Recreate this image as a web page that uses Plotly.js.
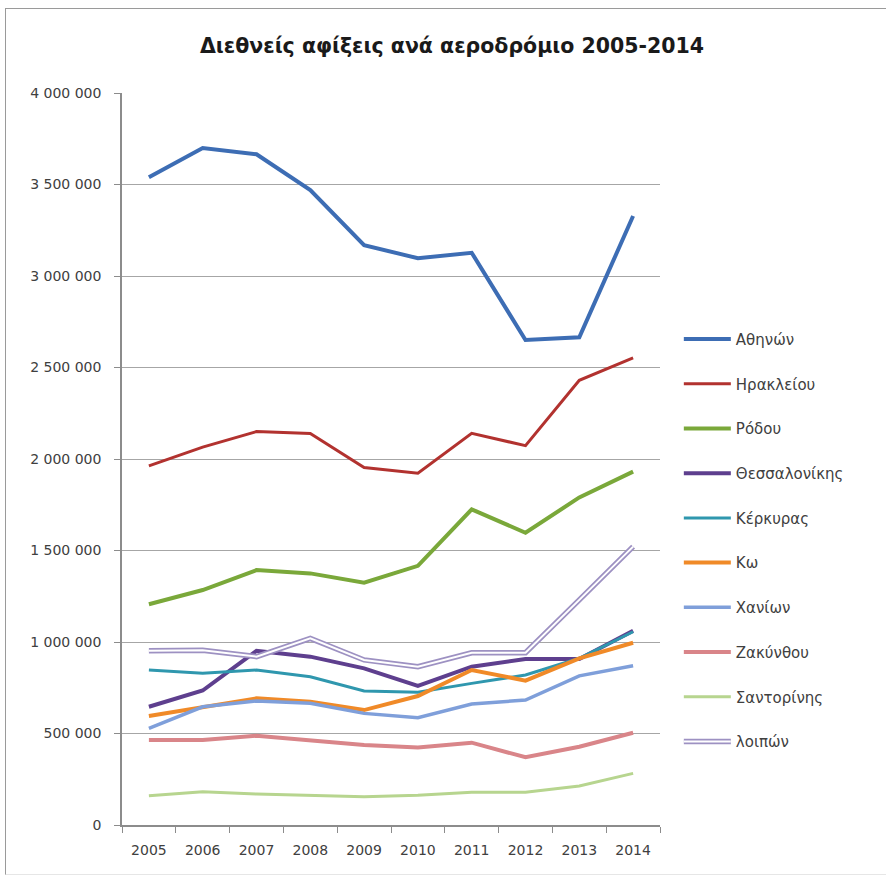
<!DOCTYPE html>
<html>
<head>
<meta charset="utf-8">
<script src="https://cdn.plot.ly/plotly-3.0.1.min.js"></script>
<style>
  html, body { margin: 0; padding: 0; background: #fff; overflow: hidden; }
  #frame { position: absolute; left: 5px; top: 8px; width: 881px; height: 867px; border-top: 1.5px solid #9a9a9a; border-left: 1.5px solid #9a9a9a; border-bottom: 1px solid #e6e6e6; box-sizing: border-box; pointer-events: none; z-index: 5; }
  #chart { position: absolute; left: 0; top: 0; width: 886px; height: 875px; }
</style>
</head>
<body>
<div id="chart"></div>
<div id="frame"></div>
<script>
const years = ['2005','2006','2007','2008','2009','2010','2011','2012','2013','2014'];

const names = ['Αθηνών','Ηρακλείου','Ρόδου','Θεσσαλονίκης','Κέρκυρας','Κω','Χανίων','Ζακύνθου','Σαντορίνης','λοιπών'];

const athens       = [3539000, 3699000, 3665000, 3470000, 3169000, 3097000, 3127000, 2650000, 2665000, 3328000];
const heraklion    = [1962000, 2065000, 2150000, 2140000, 1953000, 1922000, 2140000, 2073000, 2430000, 2552000];
const rhodes       = [1206000, 1284000, 1393000, 1375000, 1324000, 1416000, 1725000, 1597000, 1790000, 1931000];
const thessaloniki = [646000, 735000, 952000, 920000, 856000, 760000, 865000, 907000, 907000, 1062000];
const kerkyra      = [847000, 829000, 847000, 810000, 732000, 725000, 774000, 820000, 911000, 1056000];
const kos          = [596000, 646000, 692000, 674000, 628000, 705000, 847000, 789000, 911000, 996000];
const chania       = [528000, 646000, 678000, 665000, 610000, 586000, 661000, 683000, 815000, 870000];
const zakynthos    = [464000, 464000, 488000, 464000, 437000, 424000, 450000, 370000, 428000, 504000];
const santorini    = [160000, 182000, 169000, 160000, 155000, 162000, 179000, 179000, 213000, 282000];
const others       = [952000, 955000, 920000, 1020000, 902000, 865000, 941000, 941000, 1230000, 1521000];

const yTickVals = [0, 500000, 1000000, 1500000, 2000000, 2500000, 3000000, 3500000, 4000000];

const series = [athens, heraklion, rhodes, thessaloniki, kerkyra, kos, chania, zakynthos, santorini, others];
const colors = ['#3d6db4', '#b2322f', '#7aa83a', '#5e3f8e', '#2f97ae', '#f08a28', '#7f9fda', '#d98589', '#b7d58f', '#9d91c2'];
const widths = [4, 3, 4, 4, 3, 4, 3.5, 4, 3, 5.5];

const traces = series.map((vals, i) => ({
  type: 'scatter', mode: 'lines',
  x: years, y: vals,
  name: names[i],
  legendgroup: 'g' + i,
  line: { color: colors[i], width: widths[i] },
  hoverinfo: 'x+y+name'
}));
// inner white line of the double line for "λοιπών"
traces.push({
  type: 'scatter', mode: 'lines',
  x: years, y: others,
  name: names[9],
  legendgroup: 'g9',
  showlegend: false,
  line: { color: '#ffffff', width: 2 },
  hoverinfo: 'skip'
});

const fontFam = 'DejaVu Sans, Liberation Sans, sans-serif';

const layout = {
  width: 886, height: 875,
  margin: { l: 122, r: 226, t: 93, b: 50 },
  paper_bgcolor: '#ffffff', plot_bgcolor: '#ffffff',
  separators: ', ',
  font: { family: fontFam, color: '#404040', size: 13 },
  title: {
    text: '<b>Διεθνείς αφίξεις ανά αεροδρόμιο 2005-2014</b>',
    font: { family: fontFam, size: 20.5, color: '#1a1a1a' },
    x: 452 / 886, xref: 'container', xanchor: 'center',
    y: 1 - 46 / 875, yref: 'container', yanchor: 'middle'
  },
  xaxis: {
    type: 'category',
    tickvals: years, ticktext: years,
    tickson: 'boundaries',
    ticks: 'outside', ticklen: 6, tickcolor: '#8c8c8c', tickwidth: 1,
    showline: true, linecolor: '#8c8c8c', linewidth: 1.5,
    showgrid: false, zeroline: false,
    tickfont: { size: 14, color: '#404040' },
    ticklabelstandoff: 11,
    range: [-0.5, 9.5],
    fixedrange: true
  },
  yaxis: {
    range: [0, 4000000],
    tickvals: yTickVals,
    tickformat: ',d',
    ticks: 'outside', ticklen: 6, tickcolor: '#8c8c8c', tickwidth: 1,
    showline: true, linecolor: '#8c8c8c', linewidth: 1.5,
    showgrid: true, gridcolor: '#a6a6a6', gridwidth: 1,
    zeroline: false,
    tickfont: { size: 14, color: '#404040' },
    ticklabelstandoff: 10,
    fixedrange: true
  },
  showlegend: true,
  legend: {
    x: 1.035, xanchor: 'left',
    y: 0.686, yanchor: 'top',
    tracegroupgap: 22.2,
    itemwidth: 47,
    font: { family: fontFam, size: 15, color: '#404040' },
    bgcolor: 'rgba(0,0,0,0)',
    traceorder: 'grouped'
  }
};

Plotly.newPlot('chart', traces, layout, { displayModeBar: false }).then(() => {
  // add white inner line to the legend symbol of the double line series
  const items = document.querySelectorAll('.legend .traces');
  const last = items[items.length - 1];
  if (last) {
    const p = last.querySelector('.js-line');
    if (p) {
      const c = p.cloneNode(true);
      c.style.stroke = '#ffffff';
      c.style.strokeWidth = '2px';
      p.parentNode.appendChild(c);
    }
  }
});
</script>
</body>
</html>
